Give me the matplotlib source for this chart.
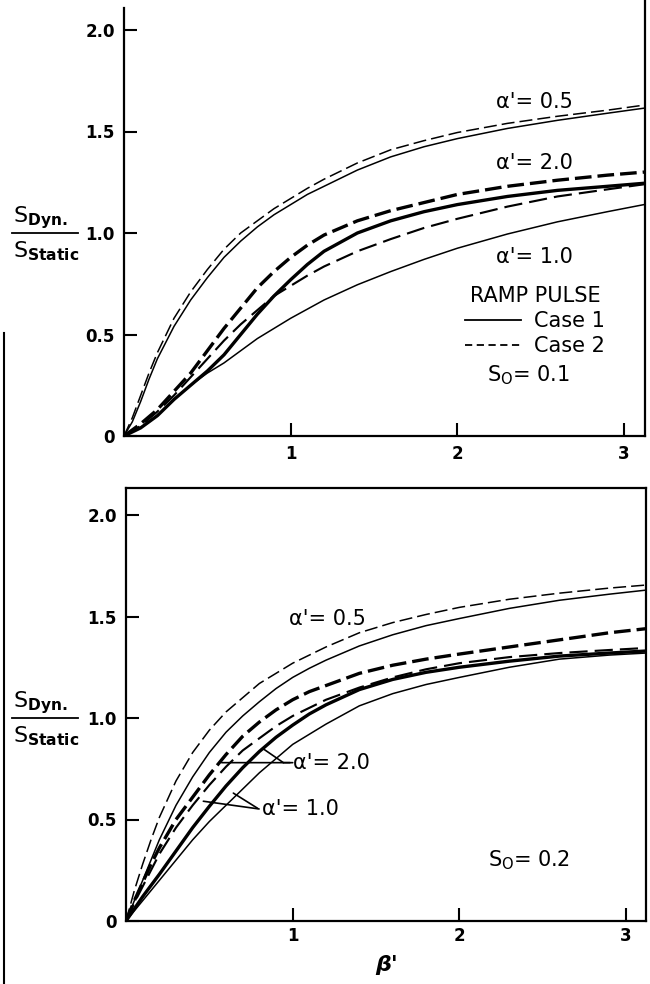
import matplotlib
matplotlib.use("Agg")
import matplotlib.pyplot as plt
from matplotlib.lines import Line2D

plt.rcParams['font.family'] = 'DejaVu Sans'
plt.rcParams['mathtext.default'] = 'regular'

# beta' values the curves were read at
beta = [0, 0.05, 0.1, 0.15, 0.2, 0.3, 0.4, 0.5, 0.6, 0.7, 0.8, 0.9, 1.0,
        1.1, 1.2, 1.4, 1.6, 1.8, 2.0, 2.3, 2.6, 2.9, 3.12]

# upper panel, S0 = 0.1  (c1 = case 1 solid, c2 = case 2 dashed)
top_a05_c1 = [0, 0.07, 0.17, 0.28, 0.38, 0.54, 0.67, 0.78, 0.88, 0.96, 1.03, 1.09,
              1.14, 1.19, 1.23, 1.31, 1.375, 1.425, 1.465, 1.515, 1.555, 1.59, 1.615]
top_a05_c2 = [0, 0.09, 0.20, 0.31, 0.41, 0.58, 0.71, 0.82, 0.92, 1.00, 1.06, 1.12,
              1.17, 1.22, 1.265, 1.345, 1.41, 1.455, 1.495, 1.54, 1.575, 1.605, 1.63]
top_a20_c1 = [0, 0.02, 0.04, 0.07, 0.10, 0.18, 0.25, 0.32, 0.40, 0.50, 0.60, 0.69,
              0.77, 0.845, 0.91, 1.00, 1.06, 1.105, 1.14, 1.18, 1.21, 1.23, 1.245]
top_a20_c2 = [0, 0.03, 0.06, 0.095, 0.13, 0.22, 0.31, 0.42, 0.53, 0.63, 0.73, 0.81,
              0.88, 0.94, 0.99, 1.06, 1.11, 1.15, 1.19, 1.23, 1.26, 1.285, 1.30]
top_a10_c1 = [0, 0.02, 0.04, 0.07, 0.10, 0.18, 0.25, 0.31, 0.36, 0.42, 0.48, 0.53,
              0.58, 0.625, 0.67, 0.745, 0.81, 0.87, 0.925, 0.995, 1.055, 1.105, 1.14]
top_a10_c2 = [0, 0.025, 0.05, 0.085, 0.12, 0.20, 0.29, 0.38, 0.47, 0.55, 0.62, 0.69,
              0.74, 0.79, 0.835, 0.91, 0.97, 1.025, 1.07, 1.13, 1.18, 1.215, 1.24]

# lower panel, S0 = 0.2
bot_a05_c1 = [0, 0.10, 0.20, 0.30, 0.40, 0.57, 0.71, 0.83, 0.93, 1.01, 1.08, 1.145,
              1.20, 1.245, 1.285, 1.355, 1.41, 1.455, 1.49, 1.54, 1.58, 1.61, 1.63]
bot_a05_c2 = [0, 0.15, 0.28, 0.40, 0.51, 0.69, 0.83, 0.94, 1.03, 1.10, 1.17, 1.22,
              1.27, 1.31, 1.35, 1.42, 1.47, 1.51, 1.545, 1.585, 1.615, 1.64, 1.655]
bot_a20_c1 = [0, 0.06, 0.12, 0.175, 0.23, 0.345, 0.46, 0.565, 0.665, 0.755, 0.835, 0.905,
              0.965, 1.02, 1.065, 1.14, 1.19, 1.225, 1.25, 1.28, 1.305, 1.32, 1.33]
bot_a20_c2 = [0, 0.10, 0.19, 0.28, 0.36, 0.50, 0.61, 0.72, 0.82, 0.91, 0.98, 1.04,
              1.09, 1.13, 1.16, 1.22, 1.26, 1.29, 1.315, 1.35, 1.385, 1.42, 1.44]
bot_a10_c1 = [0, 0.05, 0.10, 0.15, 0.20, 0.30, 0.40, 0.49, 0.57, 0.65, 0.73, 0.80,
              0.87, 0.92, 0.97, 1.06, 1.12, 1.165, 1.20, 1.25, 1.29, 1.31, 1.32]
bot_a10_c2 = [0, 0.09, 0.17, 0.25, 0.33, 0.46, 0.57, 0.67, 0.76, 0.84, 0.90, 0.96,
              1.01, 1.05, 1.09, 1.15, 1.20, 1.24, 1.27, 1.30, 1.32, 1.335, 1.345]

yticks = [0, 0.5, 1.0, 1.5, 2.0]
ytick_labels = ["0", "0.5", "1.0", "1.5", "2.0"]
xticks = [1, 2, 3]
xtick_labels = ["1", "2", "3"]

W, H = 650, 984
fig = plt.figure(figsize=(W / 100, H / 100), dpi=100)


def px(x, y):
    # pixel position (from top-left) -> figure fraction
    return x / W, 1 - y / H


THIN, THICK = 1.1, 2.4
thin_dash = (8.5, 3.3)
thick_dash = (5.0, 1.8)


def style_axes(ax, ylim_top, xlim_right, xpad):
    ax.set_xlim(0, xlim_right)
    ax.set_ylim(0, ylim_top)
    ax.set_xticks(xticks)
    ax.set_xticklabels(xtick_labels)
    ax.set_yticks(yticks)
    ax.set_yticklabels(ytick_labels)
    ax.tick_params(direction="in", length=9.5, width=1.5, labelsize=12)
    ax.tick_params(axis="y", pad=6.5)
    ax.tick_params(axis="x", pad=xpad)
    for lab in ax.get_xticklabels() + ax.get_yticklabels():
        lab.set_fontweight("bold")
    for sp in ax.spines.values():
        sp.set_linewidth(1.6)


def draw_curves(ax, c05, c20, c10):
    ax.plot(beta, c05[0], color="k", lw=THIN)
    ax.plot(beta, c05[1], color="k", lw=THIN, dashes=thin_dash)
    ax.plot(beta, c20[0], color="k", lw=THICK)
    ax.plot(beta, c20[1], color="k", lw=THICK, dashes=thick_dash)
    ax.plot(beta, c10[0], color="k", lw=THIN)
    ax.plot(beta, c10[1], color="k", lw=THIN * 1.4, dashes=thin_dash)


# ---- upper panel ----
l, b = px(124, 436)
ax1 = fig.add_axes([l, b, (645 - 124) / W, (436 - 8) / H])
style_axes(ax1, 428 / 203, 521 / 166.7, 6.5)
ax1.spines["top"].set_visible(False)
ax1.spines["right"].set_bounds(0, 436 / 203)
draw_curves(ax1, (top_a05_c1, top_a05_c2), (top_a20_c1, top_a20_c2),
            (top_a10_c1, top_a10_c2))

ax1.text(2.23, 1.645, "α'= 0.5", fontsize=15, va="center")
ax1.text(2.23, 1.345, "α'= 2.0", fontsize=15, va="center")
ax1.text(2.23, 0.88, "α'= 1.0", fontsize=15, va="center")
ax1.text(2.18, 0.30, "S$_O$= 0.1", fontsize=15, va="center")

handles = [Line2D([], [], color="k", lw=1.3),
           Line2D([], [], color="k", lw=1.3, dashes=(4, 2.5))]
leg = ax1.legend(handles, ["Case 1", "Case 2"], title="RAMP PULSE",
                 loc="upper center", bbox_to_anchor=px(535, 286),
                 bbox_transform=fig.transFigure, frameon=False,
                 fontsize=15, title_fontsize=15, handlelength=2.7,
                 handletextpad=0.6, labelspacing=0.25, borderpad=0,
                 borderaxespad=0)

# ---- lower panel ----
l, b = px(126, 921)
ax2 = fig.add_axes([l, b, (646 - 126) / W, (921 - 488) / H])
style_axes(ax2, 433 / 203, 520 / 166.7, 4.5)
draw_curves(ax2, (bot_a05_c1, bot_a05_c2), (bot_a20_c1, bot_a20_c2),
            (bot_a10_c1, bot_a10_c2))

ax2.text(0.98, 1.49, "α'= 0.5", fontsize=15, va="center")
ax2.text(2.17, 0.30, "S$_O$= 0.2", fontsize=15, va="center")

lead = dict(arrowstyle="-", color="k", lw=1.2, shrinkA=0, shrinkB=0)
ax2.annotate("α'= 2.0", xy=(0.574, 0.78), xytext=(1.0, 0.78),
             fontsize=15, va="center", ha="left",
             arrowprops=dict(lead, relpos=(0, 0.5)))
ax2.annotate("", xy=(0.82, 0.85), xytext=(0.944, 0.78), arrowprops=lead)
ax2.annotate("", xy=(0.944, 0.78), xytext=(1.0, 0.78), arrowprops=lead)
ax2.annotate("α'= 1.0", xy=(0.464, 0.59), xytext=(0.815, 0.55),
             fontsize=15, va="center", ha="left",
             arrowprops=dict(lead, relpos=(0, 0.5)))
ax2.annotate("", xy=(0.644, 0.63), xytext=(0.79, 0.555), arrowprops=lead)

# ---- y label fractions and x label ----
for y1 in (233, 718):
    fig.text(*px(13, y1 - 15), "S$_{\\mathbf{Dyn.}}$", fontsize=16,
             ha="left", va="center")
    fig.text(*px(13, y1 + 18), "S$_{\\mathbf{Static}}$", fontsize=16,
             ha="left", va="center")
    fig.add_artist(Line2D([12 / W, 78 / W], [1 - y1 / H, 1 - y1 / H],
                          color="k", lw=1.3))

fig.text(*px(387, 965), "β'", fontsize=16, style="italic",
         fontweight="bold", ha="center", va="center")

# scan border on the left edge
fig.add_artist(Line2D([4 / W, 4 / W], [1 - 333 / H, 0], color="k", lw=1.5))

fig.savefig("out.png", dpi=100)
